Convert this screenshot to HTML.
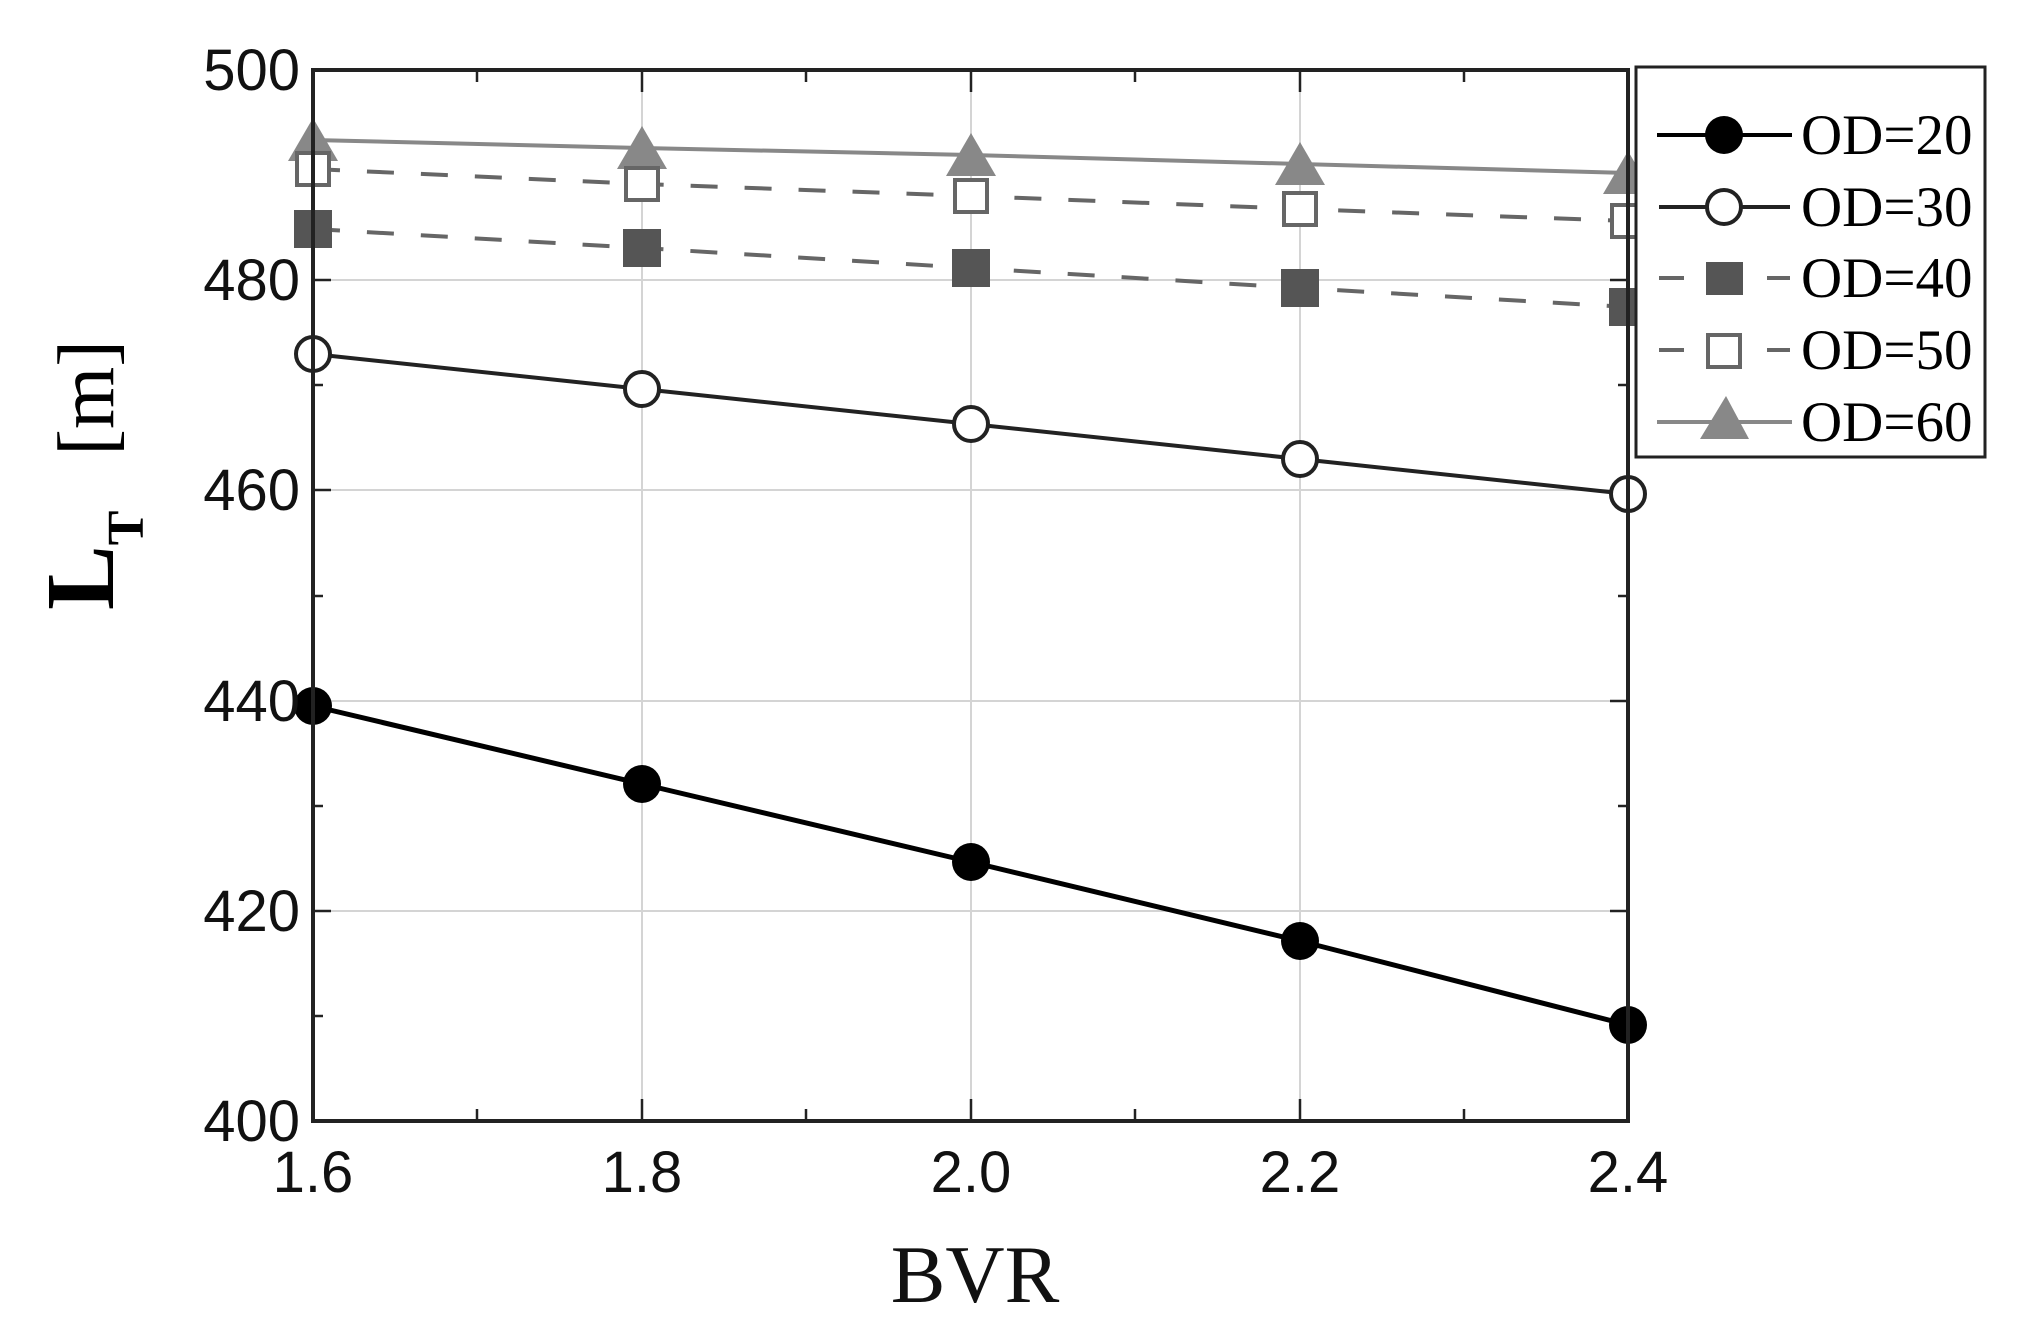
<!DOCTYPE html>
<html><head><meta charset="utf-8"><style>html,body{margin:0;padding:0;background:#fff}svg{display:block}</style></head>
<body>
<svg width="2036" height="1335" viewBox="0 0 2036 1335" xmlns="http://www.w3.org/2000/svg">
<rect width="2036" height="1335" fill="#fff"/>
<g stroke="#d4d4d4" stroke-width="2">
<line x1="642" y1="70" x2="642" y2="1121"/>
<line x1="971" y1="70" x2="971" y2="1121"/>
<line x1="1300" y1="70" x2="1300" y2="1121"/>
<line x1="313" y1="280" x2="1628" y2="280"/>
<line x1="313" y1="490" x2="1628" y2="490"/>
<line x1="313" y1="701" x2="1628" y2="701"/>
<line x1="313" y1="911" x2="1628" y2="911"/>
</g>
<g stroke="#222" stroke-width="2.5">
<path d="M642 70v22M971 70v22M1300 70v22M477 70v12M806 70v12M1135 70v12M1464 70v12"/>
<path d="M642 1121v-22M971 1121v-22M1300 1121v-22M477 1121v-12M806 1121v-12M1135 1121v-12M1464 1121v-12"/>
<path d="M313 280h18M313 490h18M313 701h18M313 911h18M313 175h10M313 385h10M313 596h10M313 806h10M313 1016h10"/>
<path d="M1628 280h-18M1628 490h-18M1628 701h-18M1628 911h-18M1628 175h-10M1628 385h-10M1628 596h-10M1628 806h-10M1628 1016h-10"/>
</g>
<polyline points="313,140 642,148 971,155 1300,164 1628,173" fill="none" stroke="#888" stroke-width="4"/>
<g fill="#888">
<polygon points="313,118 338,161 288,161"/><polygon points="642,126 667,169 617,169"/><polygon points="971,133 996,176 946,176"/><polygon points="1300,142 1325,185 1275,185"/><polygon points="1628,151 1653,194 1603,194"/>
</g>
<polyline points="313,169 642,184 971,196 1300,209 1628,221" fill="none" stroke="#666" stroke-width="4" stroke-dasharray="27 27"/>
<g fill="#fff" stroke="#666" stroke-width="4">
<rect x="297" y="153" width="32" height="32"/><rect x="626" y="168" width="32" height="32"/><rect x="955" y="180" width="32" height="32"/><rect x="1284" y="193" width="32" height="32"/><rect x="1612" y="205" width="32" height="32"/>
</g>
<polyline points="313,229 642,248 971,268 1300,288 1628,307" fill="none" stroke="#666" stroke-width="4" stroke-dasharray="27 27"/>
<g fill="#555">
<rect x="294" y="210" width="38" height="38"/><rect x="623" y="229" width="38" height="38"/><rect x="952" y="249" width="38" height="38"/><rect x="1281" y="269" width="38" height="38"/><rect x="1609" y="288" width="38" height="38"/>
</g>
<polyline points="313,354 642,389 971,424 1300,459 1628,494" fill="none" stroke="#222" stroke-width="4"/>
<g fill="#fff" stroke="#222" stroke-width="4">
<circle cx="313" cy="354" r="17"/><circle cx="642" cy="389" r="17"/><circle cx="971" cy="424" r="17"/><circle cx="1300" cy="459" r="17"/><circle cx="1628" cy="494" r="17"/>
</g>
<polyline points="313,706 642,784 971,862 1300,941 1628,1025" fill="none" stroke="#000" stroke-width="5"/>
<g fill="#000">
<circle cx="313" cy="706" r="19"/><circle cx="642" cy="784" r="19"/><circle cx="971" cy="862" r="19"/><circle cx="1300" cy="941" r="19"/><circle cx="1628" cy="1025" r="19"/>
</g>
<rect x="313" y="70" width="1315" height="1051" fill="none" stroke="#222" stroke-width="4"/>
<g font-family="Liberation Sans, Arial, sans-serif" font-size="58" fill="#111" text-anchor="end">
<text x="300" y="90">500</text><text x="300" y="300">480</text><text x="300" y="510">460</text><text x="300" y="721">440</text><text x="300" y="931">420</text><text x="300" y="1141">400</text>
</g>
<g font-family="Liberation Sans, Arial, sans-serif" font-size="58" fill="#111" text-anchor="middle">
<text x="313" y="1192">1.6</text><text x="642" y="1192">1.8</text><text x="971" y="1192">2.0</text><text x="1300" y="1192">2.2</text><text x="1628" y="1192">2.4</text>
</g>
<text x="975" y="1302" font-family="Liberation Serif, serif" font-size="82" text-anchor="middle" fill="#111">BVR</text>
<text transform="translate(113,610) rotate(-90)" font-family="Liberation Serif, serif" fill="#000"><tspan font-size="97" font-weight="bold">L</tspan><tspan font-size="52" font-weight="bold" dy="30">T</tspan><tspan font-size="80" dy="-30" dx="55">[m]</tspan></text>
<rect x="1636" y="67" width="349" height="390" fill="#fff" stroke="#222" stroke-width="3"/>
<g stroke-width="4">
<line x1="1657" y1="135" x2="1792" y2="135" stroke="#000"/><circle cx="1724" cy="135" r="19" fill="#000"/>
<line x1="1659" y1="207" x2="1790" y2="207" stroke="#222"/><circle cx="1724" cy="207" r="17" fill="#fff" stroke="#222"/>
<line x1="1659" y1="278" x2="1684" y2="278" stroke="#666"/><line x1="1767" y1="278" x2="1790" y2="278" stroke="#666"/><rect x="1706" y="262" width="37" height="33" fill="#555"/>
<line x1="1659" y1="350" x2="1684" y2="350" stroke="#666"/><line x1="1767" y1="350" x2="1790" y2="350" stroke="#666"/><rect x="1708" y="335" width="32" height="32" fill="#fff" stroke="#666"/>
<line x1="1657" y1="422" x2="1792" y2="422" stroke="#888"/><polygon points="1726,396 1749,439 1700,439" fill="#888"/>
</g>
<g font-family="Liberation Serif, serif" font-size="57" fill="#000">
<text x="1801" y="154">OD=20</text><text x="1801" y="226">OD=30</text><text x="1801" y="297">OD=40</text><text x="1801" y="369">OD=50</text><text x="1801" y="441">OD=60</text>
</g>
</svg>
</body></html>
